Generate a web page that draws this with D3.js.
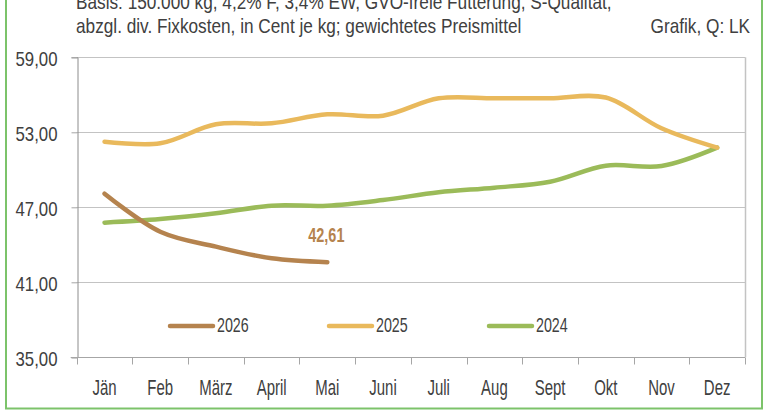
<!DOCTYPE html>
<html>
<head>
<meta charset="utf-8">
<script src="https://cdn.jsdelivr.net/npm/d3@7"></script>
<style>
	body { margin: 0; background: #fff; }
	svg text { font-family: "Liberation Sans", Arial, sans-serif; fill: #404040; }
</style>
</head>
<body>
<div id="chart"></div>
<script>

var months = ["Jän", "Feb", "März", "April", "Mai", "Juni", "Juli", "Aug", "Sept", "Okt", "Nov", "Dez"];
var yTicks = [35, 41, 47, 53, 59];

var values2026 = [48.09, 45.05, 43.85, 42.92, 42.61];
var values2025 = [52.25, 52.12, 53.64, 53.72, 54.44, 54.33, 55.72, 55.72, 55.72, 55.78, 53.32, 51.77];
var values2024 = [45.77, 46.06, 46.52, 47.13, 47.13, 47.58, 48.2, 48.57, 49.05, 50.33, 50.3, 51.77];

var seriesNames = ["2026", "2025", "2024"];
var seriesColors = ["#b5834e", "#e9b95c", "#9bbb59"];

var headerLines = [
	"Basis: 150.000 kg, 4,2% F, 3,4% EW, GVO-freie Fütterung, S-Qualität,",
	"abzgl. div. Fixkosten, in Cent je kg; gewichtetes Preismittel"
];
var sourceText = "Grafik, Q: LK";

var width = 770,
	height = 415,
	plotleft = 76.7,
	plotright = 745,
	plottop = 57.3,
	plotbottom = 357.3;

// the chart font is a tall condensed face; squeeze a normal sans sideways
function narrow(sel, sx, fx, fy) {
	sel.attr("x", 0)
		.attr("y", 0)
		.attr("transform", function(d, i) {
			return "translate(" + fx(d, i) + "," + fy(d, i) + ") scale(" + sx + ",1)";
		});
}

var svg = d3.select("#chart").append("svg")
	.attr("width", width)
	.attr("height", height);

// outer green frame (top edge lies above the picture)
svg.append("rect")
	.attr("x", 6)
	.attr("y", -10)
	.attr("width", 756)
	.attr("height", 418.5)
	.attr("fill", "none")
	.attr("stroke", "#7cc36a")
	.attr("stroke-width", 2);

var x = d3.scaleBand()
	.domain(months)
	.range([plotleft, plotright]);

var y = d3.scaleLinear()
	.domain([35, 59])
	.range([plotbottom, plottop]);

// header text
svg.selectAll(".header")
	.data(headerLines)
	.enter()
	.append("text")
	.attr("class", "header")
	.attr("font-size", "21px")
	.text(function(d) { return d; })
	.call(narrow, 0.82, function() { return 76; }, function(d, i) { return 9 + i * 24; });

svg.append("text")
	.datum(sourceText)
	.attr("text-anchor", "end")
	.attr("font-size", "21px")
	.text(function(d) { return d; })
	.call(narrow, 0.82, function() { return 750; }, function() { return 33; });

// gridlines
svg.append("g")
	.selectAll("line")
	.data(yTicks.slice(1))
	.enter()
	.append("line")
	.attr("x1", plotleft)
	.attr("x2", plotright)
	.attr("y1", function(d) { return Math.round(y(d)) + 0.5; })
	.attr("y2", function(d) { return Math.round(y(d)) + 0.5; })
	.attr("stroke", "#c3c3c3")
	.attr("stroke-width", 1);

// right border of plot
svg.append("line")
	.attr("x1", plotright + 0.5)
	.attr("x2", plotright + 0.5)
	.attr("y1", plottop)
	.attr("y2", plotbottom)
	.attr("stroke", "#c3c3c3")
	.attr("stroke-width", 1.5);

// y axis
var ySx = 0.84;
var yAxis = d3.axisLeft(y)
	.tickValues(yTicks)
	.tickSize(6)
	.tickFormat(function(d) { return d3.format(".2f")(d).replace(".", ","); });

var gy = svg.append("g")
	.attr("transform", "translate(" + (Math.round(plotleft) + 0.5) + ",0)")
	.call(yAxis);
gy.select(".domain").attr("stroke", "#8c8c8c");
gy.selectAll(".tick line").attr("stroke", "#a6a6a6");
gy.selectAll(".tick text")
	.attr("font-size", "20px")
	.attr("font-family", null)
	.attr("fill", "#404040")
	.attr("x", -20 / ySx)
	.attr("dy", "0.42em")
	.attr("transform", "scale(" + ySx + ",1)");

// x axis: ticks between categories
var boundaries = months.map(function(m) { return x(m); }).concat([plotright]);

var gx = svg.append("g")
	.attr("transform", "translate(0," + (Math.round(plotbottom) + 0.5) + ")");
gx.append("line")
	.attr("x1", plotleft - 6)
	.attr("x2", plotright)
	.attr("stroke", "#a6a6a6");
gx.selectAll(".xtick")
	.data(boundaries)
	.enter()
	.append("line")
	.attr("class", "xtick")
	.attr("x1", function(d) { return Math.round(d) + 0.5; })
	.attr("x2", function(d) { return Math.round(d) + 0.5; })
	.attr("y1", 0)
	.attr("y2", 7)
	.attr("stroke", "#a6a6a6");
gx.selectAll(".xlabel")
	.data(months)
	.enter()
	.append("text")
	.attr("class", "xlabel")
	.attr("text-anchor", "middle")
	.attr("font-size", "22px")
	.text(function(d) { return d; })
	.call(narrow, 0.68, function(d) { return x(d) + x.bandwidth() / 2; }, function() { return 37; });

// lines
var line = d3.line()
	.x(function(d, i) { return x(months[i]) + x.bandwidth() / 2; })
	.y(function(d) { return y(d); })
	.curve(d3.curveCatmullRom.alpha(0.5));

var allSeries = [values2026, values2025, values2024];

// draw 2024 first, then 2025, then 2026 on top
svg.append("g")
	.selectAll("path")
	.data([2, 1, 0])
	.enter()
	.append("path")
	.attr("d", function(k) { return line(allSeries[k]); })
	.attr("fill", "none")
	.attr("stroke", function(k) { return seriesColors[k]; })
	.attr("stroke-width", 4.5)
	.attr("stroke-linecap", "round")
	.attr("stroke-linejoin", "round");

// value label at the last 2026 point
var lastIdx = values2026.length - 1;
svg.append("text")
	.datum(values2026[lastIdx])
	.attr("text-anchor", "middle")
	.attr("font-size", "21px")
	.attr("font-weight", "bold")
	.style("fill", seriesColors[0])
	.text(function(d) { return d3.format(".2f")(d).replace(".", ","); })
	.call(narrow, 0.69,
		function() { return x(months[lastIdx]) + x.bandwidth() / 2 - 1; },
		function(d) { return y(d) - 20.5; });

// legend
var legendX = [170, 329, 489];
var legend = svg.append("g")
	.selectAll("g")
	.data(seriesNames)
	.enter()
	.append("g")
	.attr("transform", function(d, i) { return "translate(" + legendX[i] + ",326)"; });
legend.append("line")
	.attr("x1", 0)
	.attr("x2", 43)
	.attr("stroke", function(d, i) { return seriesColors[i]; })
	.attr("stroke-width", 4.5)
	.attr("stroke-linecap", "round");
legend.append("text")
	.attr("font-size", "21px")
	.text(function(d) { return d; })
	.call(narrow, 0.68, function() { return 47; }, function() { return 6; });

</script>
</body>
</html>
